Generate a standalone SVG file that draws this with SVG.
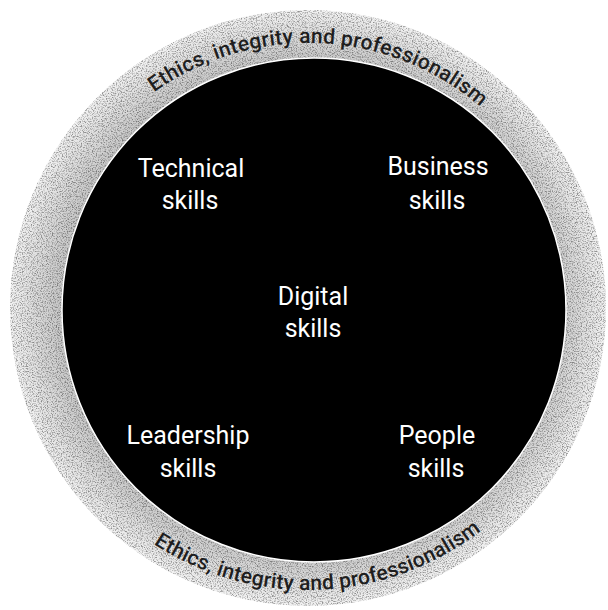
<svg xmlns="http://www.w3.org/2000/svg" xmlns:xlink="http://www.w3.org/1999/xlink" width="608" height="610" viewBox="0 0 608 610">
  <defs>
    <style>
      .ring-text { font-family: Roboto, "Liberation Sans", sans-serif; font-size: 21px; font-weight: 500; fill: #1e1e1e; }
      .label { font-family: Roboto, "Liberation Sans", sans-serif; font-size: 25px; fill: #ffffff; text-anchor: middle; }
    </style>
    <radialGradient id="ringGrad" cx="308" cy="308" r="298" gradientUnits="userSpaceOnUse">
      <stop offset="0.82" stop-color="#c4c4c4"/>
      <stop offset="0.9" stop-color="#d8d8d8"/>
      <stop offset="1" stop-color="#f2f2f2"/>
    </radialGradient>
    <filter id="grain" x="0" y="0" width="100%" height="100%" filterUnits="userSpaceOnUse">
      <feTurbulence type="fractalNoise" baseFrequency="0.8" numOctaves="2" seed="7" result="n"/>
      <feColorMatrix in="n" type="matrix" values="0 0 0 0 0  0 0 0 0 0  0 0 0 0 0  3.2 0 0 0 -1.45"/>
    </filter>
    <clipPath id="ringClip">
      <circle cx="308" cy="308" r="298"/>
    </clipPath>
    <path id="topArc" d="M43,308 A265,265 0 0 1 573,308"/>
    <path id="bottomArc" d="M26,308 A282,282 0 0 0 590,308"/>
  </defs>

  <g id="ring">
    <circle cx="308" cy="308" r="298" fill="url(#ringGrad)"/>
    <rect x="0" y="0" width="608" height="610" filter="url(#grain)" clip-path="url(#ringClip)" opacity="0.4"/>
  </g>

  <g id="ethics-top">
    <text class="ring-text"><textPath xlink:href="#topArc" href="#topArc" startOffset="51.4%" text-anchor="middle" textLength="352" lengthAdjust="spacing">Ethics, integrity and professionalism</textPath></text>
  </g>
  <g id="ethics-bottom">
    <text class="ring-text"><textPath xlink:href="#bottomArc" href="#bottomArc" startOffset="51.3%" text-anchor="middle" textLength="350" lengthAdjust="spacing">Ethics, integrity and professionalism</textPath></text>
  </g>

  <g id="core">
    <circle cx="314" cy="310" r="252" fill="#000000" stroke="#ffffff" stroke-width="1.5"/>
  </g>

  <g id="technical">
    <text class="label" x="191" y="177">Technical</text>
    <text class="label" x="190" y="209">skills</text>
  </g>
  <g id="business">
    <text class="label" x="438" y="175">Business</text>
    <text class="label" x="437" y="209">skills</text>
  </g>
  <g id="digital">
    <text class="label" x="313" y="305">Digital</text>
    <text class="label" x="313" y="337">skills</text>
  </g>
  <g id="leadership">
    <text class="label" x="188" y="444">Leadership</text>
    <text class="label" x="188" y="477">skills</text>
  </g>
  <g id="people">
    <text class="label" x="437" y="444">People</text>
    <text class="label" x="436" y="477">skills</text>
  </g>

  <g id="connectors"/>
</svg>
